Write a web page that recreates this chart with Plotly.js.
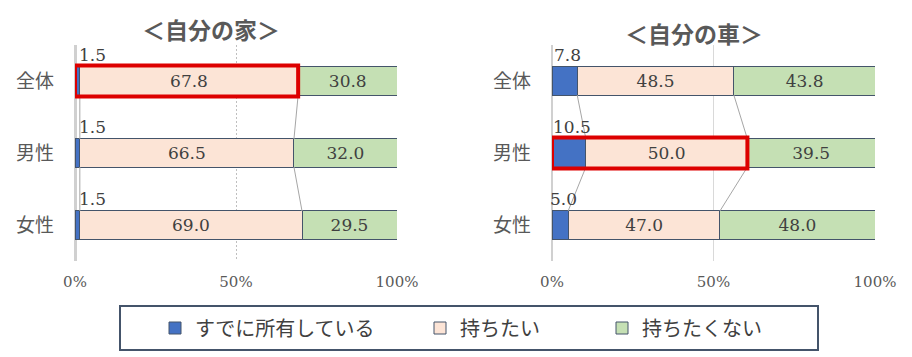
<!DOCTYPE html>
<html>
<head>
<meta charset="utf-8">
<script src="https://cdn.plot.ly/plotly-3.0.1.min.js"></script>
<style>html,body{margin:0;padding:0;background:#fff;}#chart{width:912px;height:357px;}</style>
</head>
<body>
<div id="chart"></div>
<script>
// ---- data ----
const categories = ["全体", "男性", "女性"];
const seriesNames = ["すでに所有している", "持ちたい", "持ちたくない"];
const homeOwned = [1.5, 1.5, 1.5];
const homeWant = [67.8, 66.5, 69.0];
const homeNot = [30.8, 32.0, 29.5];
const carOwned = [7.8, 10.5, 5.0];
const carWant = [48.5, 50.0, 47.0];
const carNot = [43.8, 39.5, 48.0];
const chartTitles = ["＜自分の家＞", "＜自分の車＞"];
const xTickVals = [0, 50, 100];
const xTickText = ["0%", "50%", "100%"];
const highlightRow = [0, 1]; // 全体 in home chart, 男性 in car chart

// ---- styling ----
const colors = ["#4472C4", "#FCE4D6", "#C5E0B4"];
const barLine = "#44546A";
const serif = "DejaVu Serif, Liberation Serif, serif";
const cjk = "Noto Sans CJK JP, Noto Sans, sans-serif";
const BW = 0.39;
const yPos = categories.map((c, i) => i);
const legendIds = ["legend", "legend2", "legend3"];

const charts = [
  {series: [homeOwned, homeWant, homeNot], xa: "x", ya: "y", smallAnchor: "left"},
  {series: [carOwned, carWant, carNot], xa: "x2", ya: "y2", smallAnchor: "center"}
];

const traces = [];
const annotations = [];
const shapes = [];

charts.forEach((ch, ci) => {
  // series (connector) lines between bars at each cumulative boundary
  for (let k = 1; k <= 2; k++) {
    const cum = yPos.map(i => ch.series.slice(0, k).reduce((s, arr) => s + arr[i], 0));
    const xs = [], ys = [];
    for (let i = 0; i < yPos.length - 1; i++) {
      xs.push(cum[i], cum[i + 1], null);
      ys.push(yPos[i] + BW / 2, yPos[i + 1] - BW / 2, null);
    }
    traces.push({type: "scatter", mode: "lines", x: xs, y: ys, xaxis: ch.xa, yaxis: ch.ya,
      line: {color: "#A6A6A6", width: 1}, showlegend: false, hoverinfo: "skip"});
  }
  ch.series.forEach((vals, si) => {
    traces.push({
      type: "bar", orientation: "h", name: seriesNames[si],
      x: vals, y: yPos, xaxis: ch.xa, yaxis: ch.ya, width: BW,
      marker: {color: colors[si], line: {color: barLine, width: 1}},
      texttemplate: si === 0 ? "" : "%{x:.1f}",
      textposition: si === 0 ? "none" : "inside",
      insidetextanchor: "middle",
      textfont: {family: serif, size: 17, color: "#404040"},
      constraintext: "none",
      showlegend: ci === 0, legend: legendIds[si], legendgroup: "s" + si,
      hoverinfo: "x+y"
    });
  });
  // small value labels above the owned segment
  ch.series[0].forEach((v, i) => {
    annotations.push({
      xref: ch.xa, yref: ch.ya,
      x: ch.smallAnchor === "left" ? 0 : v / 2, y: yPos[i] - BW / 2,
      xanchor: ch.smallAnchor, yanchor: "bottom",
      xshift: ch.smallAnchor === "left" ? 2 : 3, yshift: 0,
      text: v.toFixed(1), showarrow: false,
      font: {family: serif, size: 17, color: "#404040"}
    });
  });
  // red highlight around owned + want
  const r = highlightRow[ci];
  shapes.push({type: "rect", xref: ch.xa, yref: ch.ya,
    x0: 0, x1: ch.series[0][r] + ch.series[1][r],
    y0: yPos[r] - BW / 2 - 0.02, y1: yPos[r] + BW / 2 + 0.02,
    line: {color: "#DD0000", width: 4}, fillcolor: "rgba(0,0,0,0)", layer: "above"});
});

// legend frame
shapes.push({type: "rect", xref: "paper", yref: "paper",
  x0: 120 / 912, x1: 818 / 912, y0: -(350 - 261) / 216, y1: -(306 - 261) / 216,
  line: {color: "#44546A", width: 2}, fillcolor: "rgba(0,0,0,0)"});

// titles
annotations.push({xref: "paper", yref: "paper", x: 211 / 912, y: 1.074, xanchor: "center", yanchor: "middle",
  text: "<b>" + chartTitles[0] + "</b>", showarrow: false, font: {family: cjk, size: 23, color: "#595959"}});
annotations.push({xref: "paper", yref: "paper", x: 694 / 912, y: 1.056, xanchor: "center", yanchor: "middle",
  text: "<b>" + chartTitles[1] + "</b>", showarrow: false, font: {family: cjk, size: 23, color: "#595959"}});

function xAxis(domain, dotted) {
  return {
    domain: domain, range: [0, 100], tickmode: "array", tickvals: xTickVals, ticktext: xTickText,
    showgrid: true, gridcolor: dotted ? "#BFBFBF" : "#D9D9D9", griddash: dotted ? "2px,2px" : "solid", gridwidth: 1,
    zeroline: true, zerolinecolor: "#D0D0D0", zerolinewidth: dotted ? 3 : 2,
    showline: false, ticks: "", ticklabelstandoff: 10,
    tickfont: {family: serif, size: 15, color: "#595959"}, fixedrange: true
  };
}
function yAxis(anchor) {
  return {
    anchor: anchor, range: [2.5, -0.5], tickmode: "array", tickvals: yPos, ticktext: categories,
    showgrid: false, zeroline: false, showline: false, ticks: "", ticklabelstandoff: 20,
    tickfont: {family: cjk, size: 19, color: "#595959"}, fixedrange: true
  };
}
function legendAt(px) {
  return {orientation: "h", x: px / 912, xanchor: "left", y: -(328 - 261) / 216, yanchor: "middle",
    borderwidth: 0, bgcolor: "rgba(0,0,0,0)",
    font: {family: cjk, size: 20, color: "#404040"}};
}

const layout = {
  width: 912, height: 357,
  margin: {l: 0, r: 0, t: 45, b: 96},
  paper_bgcolor: "#fff", plot_bgcolor: "#fff",
  barmode: "stack",
  font: {family: cjk, color: "#404040"},
  xaxis: xAxis([75 / 912, 397 / 912], true),
  yaxis: yAxis("x"),
  xaxis2: xAxis([552 / 912, 875 / 912], false),
  yaxis2: yAxis("x2"),
  showlegend: true,
  legend: legendAt(155),
  legend2: legendAt(420),
  legend3: legendAt(602),
  annotations: annotations, shapes: shapes
};

Plotly.newPlot("chart", traces, layout, {displayModeBar: false, staticPlot: true});
</script>
</body>
</html>
